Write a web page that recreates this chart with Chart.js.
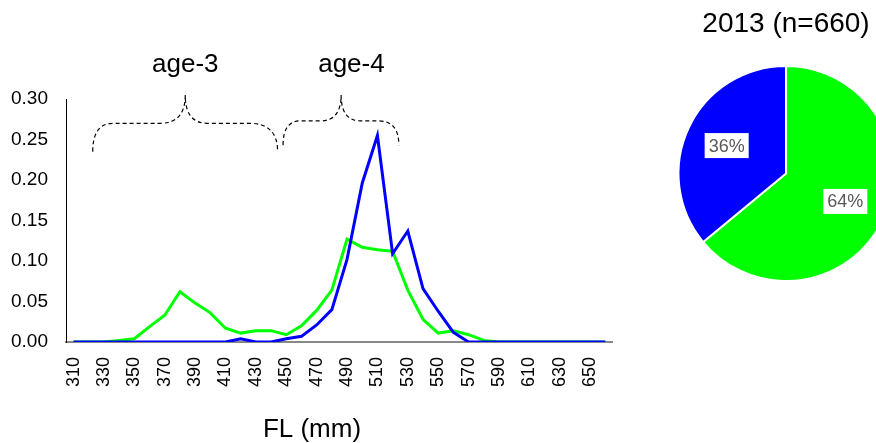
<!DOCTYPE html>
<html>
<head>
<meta charset="utf-8">
<script src="https://cdn.jsdelivr.net/npm/chart.js@4.4.1/dist/chart.umd.min.js"></script>
<style>
  html, body { margin: 0; padding: 0; background: #fff; overflow: hidden; }
  #wrap { position: relative; width: 876px; height: 443px; overflow: hidden; }
  #lineCanvas { position: absolute; left: 0; top: 0; }
  #pieCanvas { position: absolute; left: 656px; top: 0; }
</style>
</head>
<body>
<div id="wrap">
  <canvas id="lineCanvas" width="634" height="443"></canvas>
  <canvas id="pieCanvas" width="260" height="290"></canvas>
</div>
<script>
const FONT = "'Liberation Sans', Arial, sans-serif";

// fork length classes (mm)
const sizes = [310, 320, 330, 340, 350, 360, 370, 380, 390, 400, 410, 420,
  430, 440, 450, 460, 470, 480, 490, 500, 510, 520, 530, 540,
  550, 560, 570, 580, 590, 600, 610, 620, 630, 640, 650, 660];

// relative frequency, green line
const seriesA = [0, 0, 0, 0.002, 0.004, 0.019, 0.033, 0.062, 0.048, 0.036, 0.017, 0.011,
  0.014, 0.014, 0.009, 0.020, 0.039, 0.064, 0.127, 0.117, 0.114, 0.112, 0.064, 0.028,
  0.011, 0.014, 0.009, 0.002, 0, 0, 0, 0, 0, 0, 0, 0];

// relative frequency, blue line
const seriesB = [0, 0, 0, 0, 0, 0, 0, 0, 0, 0, 0, 0.004,
  0, 0, 0.004, 0.007, 0.021, 0.040, 0.102, 0.196, 0.255, 0.109, 0.137, 0.066,
  0.038, 0.012, 0, 0, 0, 0, 0, 0, 0, 0, 0, 0];

const yTicks = [0, 0.05, 0.10, 0.15, 0.20, 0.25, 0.30];

// age-group braces: x keys in mm (end, flat, flat, peak, flat, flat, end), y keys (end, flat, peak)
const braceX = [
  [322.6, 336, 367, 383.5, 398, 426, 444.3],
  [447.9, 459.3, 472.5, 486.1, 498.8, 510.7, 524.1]
];
const braceY = [
  [0.235, 0.270, 0.305],
  [0.243, 0.273, 0.305]
];
const ageLabels = ['age-3', 'age-4'];
const ageLabelX = [383.5, 492.9];
const ageLabelY = 0.333;

const pieLabels = ['A', 'B'];
const pieShares = [64, 36];
const pieTitle = '2013 (n=660)';

const GREEN = '#00ff00';
const BLUE = '#0000ff';

function mmToPixel(scale, mm) {
  return scale.getPixelForValue((mm - sizes[0]) / 10);
}

const annotations = {
  id: 'annotations',
  afterDraw(chart) {
    const { ctx, scales: { x, y } } = chart;
    ctx.save();
    ctx.strokeStyle = '#000';
    ctx.lineWidth = 1.2;
    ctx.setLineDash([4, 3]);
    braceX.forEach((bx, i) => {
      const p = bx.map(v => mmToPixel(x, v));
      const [yl, yh, yp] = braceY[i].map(v => y.getPixelForValue(v));
      ctx.beginPath();
      ctx.moveTo(p[0], yl);
      ctx.quadraticCurveTo(p[0], yh, p[1], yh);
      ctx.lineTo(p[2], yh);
      ctx.quadraticCurveTo(p[3], yh, p[3], yp);
      ctx.quadraticCurveTo(p[3], yh, p[4], yh);
      ctx.lineTo(p[5], yh);
      ctx.quadraticCurveTo(p[6], yh, p[6], yl);
      ctx.stroke();
    });
    ctx.setLineDash([]);
    ctx.fillStyle = '#000';
    ctx.font = `26px ${FONT}`;
    ctx.textAlign = 'center';
    ctx.textBaseline = 'alphabetic';
    ageLabels.forEach((t, i) => {
      ctx.fillText(t, mmToPixel(x, ageLabelX[i]), y.getPixelForValue(ageLabelY));
    });
    // axis title
    ctx.fillText('FL (mm)', 312, 437);
    ctx.restore();
  }
};

new Chart(document.getElementById('lineCanvas'), {
  type: 'line',
  data: {
    labels: sizes.map(String),
    datasets: [
      { label: 'B', data: seriesB, borderColor: BLUE, borderWidth: 3, pointRadius: 0, tension: 0, fill: false },
      { label: 'A', data: seriesA, borderColor: GREEN, borderWidth: 3, pointRadius: 0, tension: 0, fill: false }
    ]
  },
  options: {
    responsive: false,
    animation: false,
    layout: { padding: { top: 99, right: 8, left: 0, bottom: 0 } },
    plugins: { legend: { display: false }, tooltip: { enabled: false } },
    scales: {
      x: {
        offset: true,
        grid: { display: false },
        border: { display: true, color: '#888', width: 2 },
        ticks: {
          autoSkip: false,
          minRotation: 90,
          maxRotation: 90,
          padding: 7,
          color: '#000',
          font: { family: FONT, size: 18 },
          callback: (v, i) => (i % 2 === 0 ? sizes[i] : '')
        },
        afterFit: s => { s.height = 101; }
      },
      y: {
        min: 0,
        max: 0.3,
        grid: { display: false },
        border: { display: true, color: '#000', width: 1 },
        afterBuildTicks: s => { s.ticks = yTicks.map(v => ({ value: v })); },
        ticks: {
          padding: 10,
          color: '#000',
          font: { family: FONT, size: 19 },
          callback: v => v.toFixed(2)
        },
        afterFit: s => { s.width = 66; }
      }
    }
  },
  plugins: [annotations]
});

const pieText = {
  id: 'pieText',
  afterDatasetsDraw(chart) {
    const { ctx } = chart;
    const meta = chart.getDatasetMeta(0);
    ctx.save();
    ctx.font = `18px ${FONT}`;
    ctx.textAlign = 'center';
    ctx.textBaseline = 'middle';
    meta.data.forEach((arc, i) => {
      const { x, y, startAngle, endAngle, outerRadius } = arc.getProps(['x', 'y', 'startAngle', 'endAngle', 'outerRadius'], true);
      const mid = (startAngle + endAngle) / 2;
      const r = outerRadius * 0.61;
      const cx = x + Math.cos(mid) * r;
      const cy = y + Math.sin(mid) * r;
      const txt = pieShares[i] + '%';
      const w = ctx.measureText(txt).width + 8;
      ctx.fillStyle = '#fff';
      ctx.fillRect(cx - w / 2, cy - 12.5, w, 25);
      ctx.fillStyle = '#595959';
      ctx.fillText(txt, cx, cy + 1);
    });
    ctx.restore();
  }
};

new Chart(document.getElementById('pieCanvas'), {
  type: 'pie',
  data: {
    labels: pieLabels,
    datasets: [{
      data: pieShares,
      backgroundColor: [GREEN, BLUE],
      borderColor: '#fff',
      borderWidth: 2
    }]
  },
  options: {
    responsive: false,
    animation: false,
    layout: { padding: { top: 0, bottom: 8, left: 0, right: 0 } },
    plugins: {
      legend: { display: false },
      tooltip: { enabled: false },
      title: {
        display: true,
        text: pieTitle,
        color: '#000',
        font: { family: FONT, size: 28, weight: 'normal', lineHeight: 1.2 },
        padding: { top: 7, bottom: 24.4 }
      }
    }
  },
  plugins: [pieText]
});
</script>
</body>
</html>
